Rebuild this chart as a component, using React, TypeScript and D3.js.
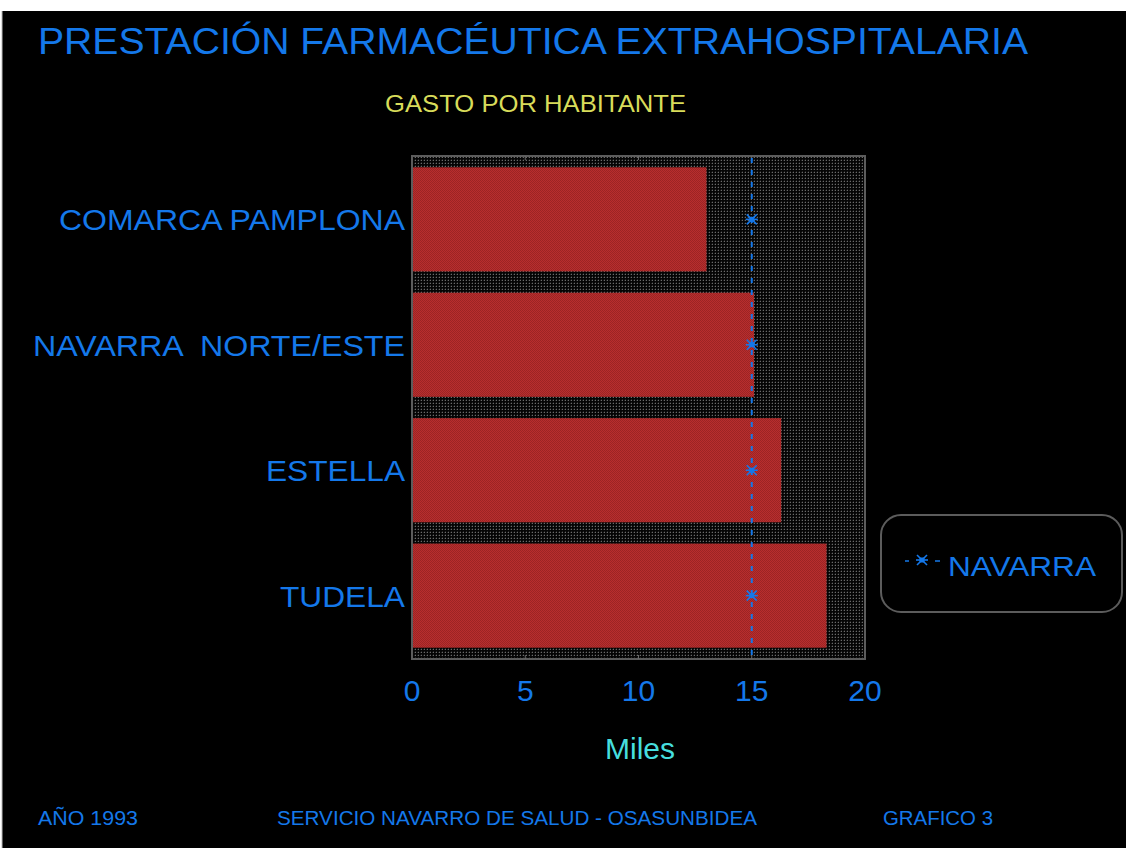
import React from "react";
import * as d3 from "d3";

const categories = ["COMARCA PAMPLONA", "NAVARRA  NORTE/ESTE", "ESTELLA", "TUDELA"];
const values = [13.0, 15.1, 16.3, 18.3];
const navarraValue = 15.0;
const xTicks = [0, 5, 10, 15, 20];
const title = "PRESTACIÓN FARMACÉUTICA EXTRAHOSPITALARIA";
const subtitle = "GASTO POR HABITANTE";
const xTitle = "Miles";
const legendLabel = "NAVARRA";
const footer = ["AÑO 1993", "SERVICIO NAVARRO DE SALUD - OSASUNBIDEA", "GRAFICO 3"];

const labelWidths = [346, 372, 139, 125];

const BLUE = "#1478ea";
const FONT = "'Liberation Sans', Arial, sans-serif";

function Marker({ cx, cy }: { cx: number; cy: number }) {
  const s = 5;
  return (
    <g stroke={BLUE} strokeWidth={1.6}>
      <line x1={cx - s} y1={cy - s} x2={cx + s} y2={cy + s} />
      <line x1={cx - s} y1={cy + s} x2={cx + s} y2={cy - s} />
      <line x1={cx - s - 1} y1={cy} x2={cx + s + 1} y2={cy} />
      <rect x={cx - 2.5} y={cy - 2.5} width={5} height={5} fill={BLUE} stroke="none" />
    </g>
  );
}

export default function App() {
  const left = 412, right = 865, top = 156, bottom = 659;
  const x = d3.scaleLinear().domain([0, 20]).range([left, right]);
  const y = d3.scaleBand<string>().domain(categories).range([top, bottom]).paddingInner(0.17).paddingOuter(0.09);
  const nx = x(navarraValue);

  return (
    <svg width={1126} height={848} style={{ position: "absolute", left: 0, top: 0, background: "#fff" }} fontFamily={FONT}>
      <defs>
        <pattern id="dots" width={3} height={3} patternUnits="userSpaceOnUse">
          <rect width={3} height={3} fill="#050505" />
          <rect x={1} y={1} width={1} height={1} fill="#6a6a6a" />
          <rect x={0} y={1} width={1} height={1} fill="#222" />
          <rect x={1} y={0} width={1} height={1} fill="#222" />
        </pattern>
        <pattern id="redhatch" width={2} height={2} patternUnits="userSpaceOnUse">
          <rect width={2} height={2} fill="#b82e2e" />
          <rect x={0} y={0} width={1} height={1} fill="#9c2424" />
          <rect x={1} y={1} width={1} height={1} fill="#9c2424" />
        </pattern>
      </defs>
      <rect x={2} y={11} width={1124} height={837} fill="#000" />
      <line x1={2} y1={11} x2={2} y2={848} stroke="#bbb" strokeWidth={1} />

      <text x={38} y={54} fontSize={36} fill={BLUE} textLength={990} lengthAdjust="spacingAndGlyphs">{title}</text>
      <text x={385} y={112} fontSize={24} fill="#d8dc5a" textLength={301} lengthAdjust="spacingAndGlyphs">{subtitle}</text>

      {/* plot area */}
      <rect x={left} y={top} width={right - left} height={bottom - top} fill="url(#dots)" />
      {values.map((v, i) => (
        <rect key={categories[i]} x={x(0)} y={y(categories[i])!} width={x(v) - x(0)} height={y.bandwidth()} fill="url(#redhatch)" />
      ))}
      <rect x={left} y={top} width={right - left} height={bottom - top} fill="none" stroke="#5c5c5c" strokeWidth={2} />
      {xTicks.slice(1, -1).map((t) => (
        <g key={t} stroke="#6a6a6a" strokeWidth={1}>
          <line x1={x(t)} x2={x(t)} y1={top} y2={top + 4} />
          <line x1={x(t)} x2={x(t)} y1={bottom} y2={bottom - 4} />
        </g>
      ))}
      <line x1={nx} x2={nx} y1={top + 2} y2={bottom - 2} stroke={BLUE} strokeWidth={2} strokeDasharray="5 7" />
      {categories.map((c) => (
        <Marker key={c} cx={nx} cy={y(c)! + y.bandwidth() / 2} />
      ))}

      {categories.map((c, i) => (
        <text key={c} x={405} y={y(c)! + y.bandwidth() / 2 + 11} fontSize={30} fill={BLUE} textAnchor="end" textLength={labelWidths[i]} lengthAdjust="spacingAndGlyphs" style={{ whiteSpace: "pre" }}>{c}</text>
      ))}

      {xTicks.map((t) => (
        <text key={t} x={x(t)} y={701} fontSize={30} fill={BLUE} textAnchor="middle">{t}</text>
      ))}
      <text x={640} y={759} fontSize={30} fill="#46dede" textAnchor="middle">{xTitle}</text>

      {/* legend */}
      <rect x={881} y={515} width={241} height={97} rx={20} ry={20} fill="#000" stroke="#5c5c5c" strokeWidth={2} />
      <line x1={905} x2={909} y1={561} y2={561} stroke={BLUE} strokeWidth={1.5} />
      <line x1={935} x2={940} y1={561} y2={561} stroke={BLUE} strokeWidth={1.5} />
      <Marker cx={922} cy={560} />
      <text x={948} y={576} fontSize={28} fill={BLUE} textLength={148} lengthAdjust="spacingAndGlyphs">{legendLabel}</text>

      {/* footer */}
      <text x={38} y={825} fontSize={20} fill={BLUE} textLength={100} lengthAdjust="spacingAndGlyphs">{footer[0]}</text>
      <text x={277} y={825} fontSize={20} fill={BLUE} textLength={480} lengthAdjust="spacingAndGlyphs">{footer[1]}</text>
      <text x={883} y={825} fontSize={20} fill={BLUE} textLength={110} lengthAdjust="spacingAndGlyphs">{footer[2]}</text>
    </svg>
  );
}
